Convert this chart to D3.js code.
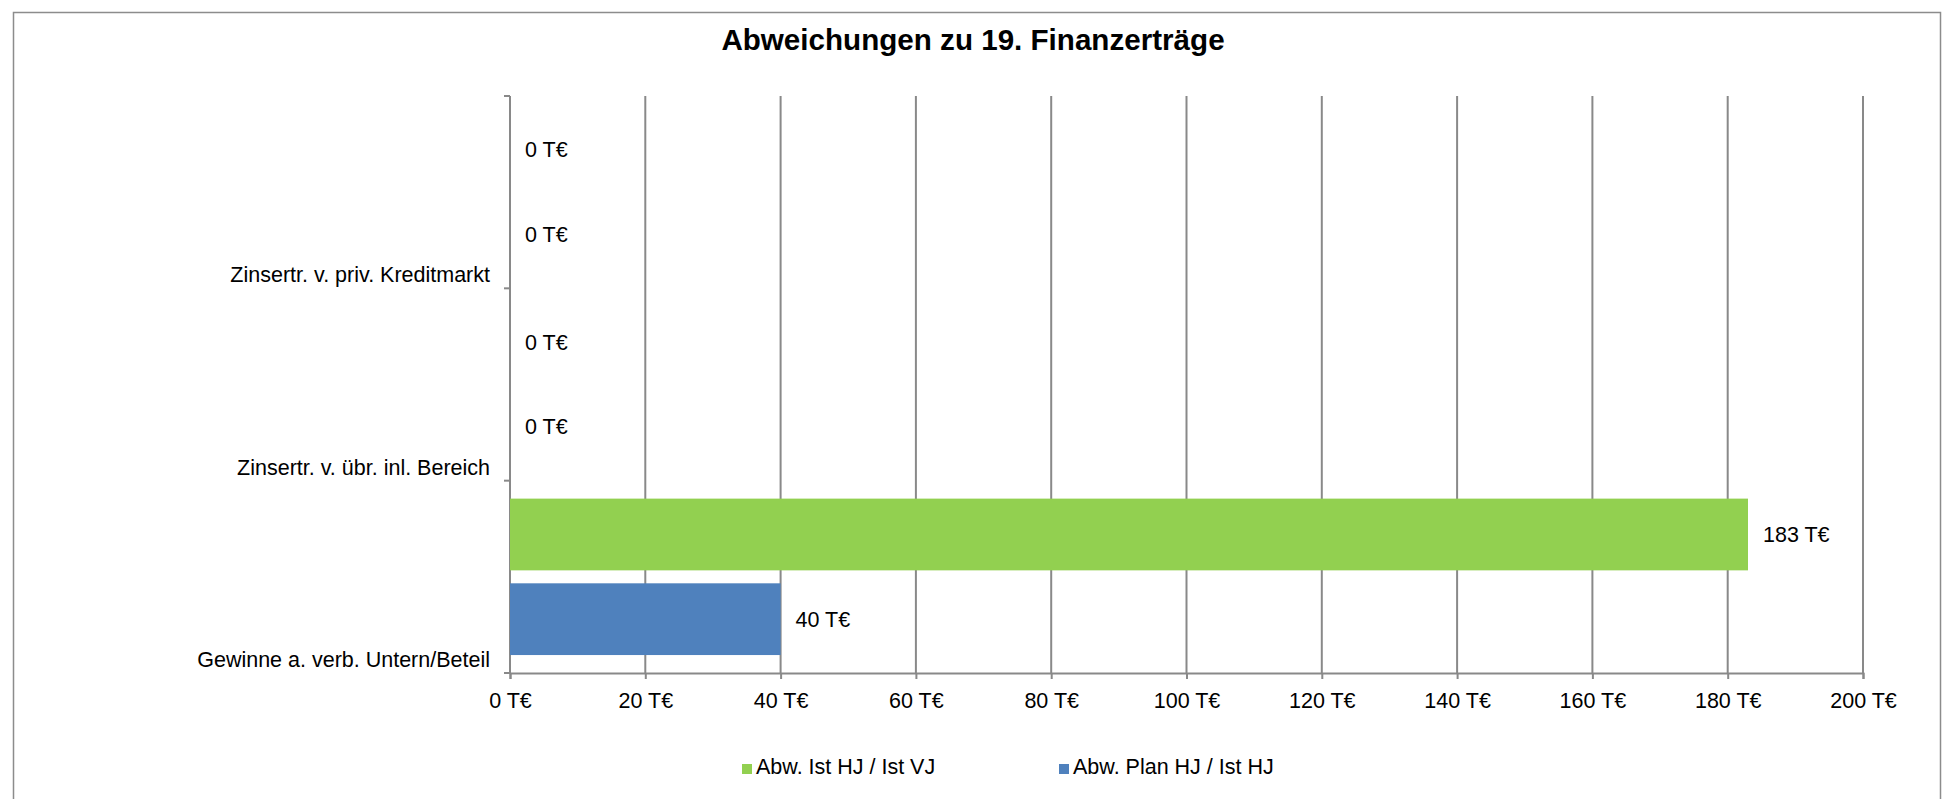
<!DOCTYPE html>
<html>
<head>
<meta charset="utf-8">
<script src="https://cdn.jsdelivr.net/npm/d3@7"></script>
<style>
html,body{margin:0;padding:0;background:#fff;}
svg{display:block;font-family:"Liberation Sans",Arial,sans-serif;}
</style>
</head>
<body>
<svg id="chart" width="1950" height="799"></svg>
<script>
// ---- data ----
const title = "Abweichungen zu 19. Finanzerträge";
const categories = ["Zinsertr. v. priv. Kreditmarkt", "Zinsertr. v. übr. inl. Bereich", "Gewinne a. verb. Untern/Beteil"];
const seriesNames = ["Abw. Ist HJ / Ist VJ", "Abw. Plan HJ / Ist HJ"];
const istVjValues = [0, 0, 183];
const planHjValues = [0, 0, 40];
const xTicks = [0, 20, 40, 60, 80, 100, 120, 140, 160, 180, 200];
const seriesColors = ["#92D050", "#4F81BD"];

(function () {
const series = [istVjValues, planHjValues];
const fmt = v => v + " T€";

const svg = d3.select("#chart");
// chart frame (bottom edge lies outside the picture)
svg.append("rect").attr("x", 13.5).attr("y", 12.5).attr("width", 1927).attr("height", 820)
  .attr("fill", "#fff").attr("stroke", "#8c8c8c").attr("stroke-width", 1.5);

const pLeft = 510, pRight = 1863, pTop = 96, pBottom = 673;
const x = d3.scaleLinear().domain([0, 200]).range([pLeft, pRight]);
const y = d3.scaleBand().domain(categories).range([pTop, pBottom]).padding(0);
const yInner = d3.scaleBand().domain([0, 1]).range([0, y.bandwidth()]).paddingInner(0.153).paddingOuter(0.212);

const gray = "#898989";
const fs = 21.5;

// title
svg.append("text").attr("x", 973).attr("y", 50).attr("text-anchor", "middle")
  .attr("font-size", 29.6).attr("font-weight", "bold").attr("fill", "#000").text(title);

// gridlines
svg.append("g").selectAll("line").data(xTicks.filter(d => d > 0)).join("line")
  .attr("x1", d => x(d)).attr("x2", d => x(d)).attr("y1", pTop).attr("y2", pBottom)
  .attr("stroke", gray).attr("stroke-width", 2);

// x axis
const xAxis = svg.append("g").attr("transform", `translate(0,${pBottom})`)
  .call(d3.axisBottom(x).tickValues(xTicks).tickFormat(fmt).tickSize(6).tickPadding(14));
xAxis.select(".domain").attr("stroke", gray).attr("stroke-width", 2);
xAxis.selectAll(".tick line").attr("stroke", gray).attr("stroke-width", 2);
xAxis.selectAll(".tick text").attr("font-size", fs).attr("fill", "#000")
  .attr("font-family", "Liberation Sans, Arial, sans-serif");

// y axis
const yTickPos = [pTop].concat(categories.map(c => y(c) + y.bandwidth()));
svg.append("line").attr("x1", pLeft).attr("x2", pLeft).attr("y1", pTop).attr("y2", pBottom)
  .attr("stroke", gray).attr("stroke-width", 2);
svg.append("g").selectAll("line").data(yTickPos).join("line")
  .attr("x1", pLeft - 6).attr("x2", pLeft).attr("y1", d => d).attr("y2", d => d)
  .attr("stroke", gray).attr("stroke-width", 2);
svg.append("g").selectAll("text").data(categories).join("text")
  .attr("x", pLeft - 20).attr("y", c => y(c) + y.bandwidth() - 6)
  .attr("text-anchor", "end").attr("font-size", fs).attr("fill", "#000").text(c => c);

// bars
series.forEach((vals, si) => {
  const g = svg.append("g");
  g.selectAll("rect").data(vals).join("rect")
    .attr("x", x(0)).attr("y", (d, i) => y(categories[i]) + yInner(si))
    .attr("width", d => x(d) - x(0)).attr("height", yInner.bandwidth())
    .attr("fill", seriesColors[si]);
  g.selectAll("text").data(vals).join("text")
    .attr("x", d => x(d) + 15).attr("y", (d, i) => y(categories[i]) + yInner(si) + yInner.bandwidth() / 2)
    .attr("dy", "0.35em").attr("font-size", fs).attr("fill", "#000").text(fmt);
});

// legend
const legendX = [742, 1059];
const lg = svg.append("g").selectAll("g").data(seriesNames).join("g")
  .attr("transform", (d, i) => `translate(${legendX[i]},764)`);
lg.append("rect").attr("width", 10).attr("height", 10).attr("fill", (d, i) => seriesColors[i]);
lg.append("text").attr("x", 14).attr("y", 10).attr("font-size", fs).attr("fill", "#000").text(d => d);
})();
</script>
</body>
</html>
